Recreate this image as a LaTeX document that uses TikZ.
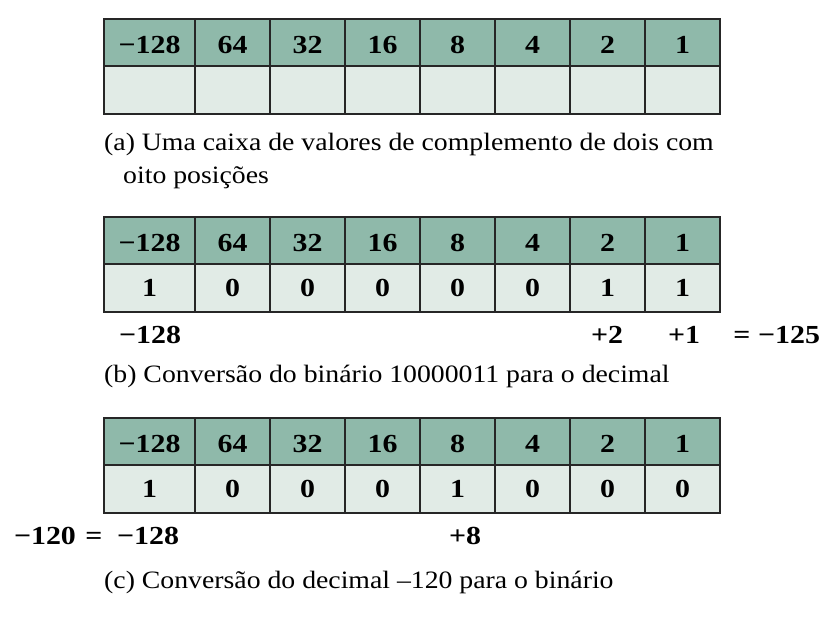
\documentclass[tikz,border=0pt]{standalone}
\usepackage{fontspec}
\setmainfont{Liberation Serif}[FakeStretch=1.11]
\newfontfamily\numfont{Liberation Serif}[FakeStretch=1.15]
\definecolor{hdr}{RGB}{143,185,170}
\definecolor{bdy}{RGB}{225,235,230}
\begin{document}
\begin{tikzpicture}[x=1pt,y=-1pt,
 cell/.style={draw=black!85, line width=1.4pt, inner sep=0pt, anchor=center,
   font=\fontsize{26}{30}\numfont\bfseries},
 hcell/.style={cell, fill=hdr, minimum height=47pt, text height=21pt, text depth=0pt},
 bcell/.style={cell, fill=bdy, minimum height=48pt},
 captxt/.style={font=\fontsize{25}{30}\selectfont, anchor=base west, inner sep=0pt},
 num/.style={font=\fontsize{26}{30}\numfont\bfseries, anchor=base, inner sep=0pt}]
\useasboundingbox (0,0) rectangle (832,622);
% header rows
\foreach \t/\yt in {a/42.5,b/240.5,c/441.5} {
  \foreach \i/\xl/\xr/\v in {1/104/195/−128,2/195/270/64,3/270/345/32,4/345/420/16,5/420/495/8,6/495/570/4,7/570/645/2,8/645/720/1}
    \node[hcell, minimum width={\xr-\xl}] (\t h\i) at ({(\xl+\xr)/2},\yt) {\v};
}
% body rows
\foreach \i/\xl/\xr in {1/104/195,2/195/270,3/270/345,4/345/420,5/420/495,6/495/570,7/570/645,8/645/720}
  \node[bcell, minimum width={\xr-\xl}] (ab\i) at ({(\xl+\xr)/2},90) {};
\foreach \i/\xl/\xr/\v in {1/104/195/1,2/195/270/0,3/270/345/0,4/345/420/0,5/420/495/0,6/495/570/0,7/570/645/1,8/645/720/1}
  \node[bcell, minimum width={\xr-\xl}] (bb\i) at ({(\xl+\xr)/2},288) {\v};
\foreach \i/\xl/\xr/\v in {1/104/195/1,2/195/270/0,3/270/345/0,4/345/420/0,5/420/495/1,6/495/570/0,7/570/645/0,8/645/720/0}
  \node[bcell, minimum width={\xr-\xl}] (cb\i) at ({(\xl+\xr)/2},489) {\v};
% captions
\node[captxt] (capa1) at (104,150) {(a) Uma caixa de valores de complemento de dois com};
\node[captxt] (capa2) at (123,183) {oito posições};
\node[captxt] (capb) at (104,382) {(b) Conversão do binário 10000011 para o decimal};
\node[captxt] (capc) at (104,588) {(c) Conversão do decimal –120 para o binário};
% sums (b)
\node[num] (bm128) at (150,343) {−128};
\node[num] (bp2) at (607,343) {+2};
\node[num] (bp1) at (684,343) {+1};
\node[num] (beq) at (742,343) {=};
\node[num] (bres) at (789,343) {−125};
% sums (c)
\node[num] (cm120) at (45,544) {−120};
\node[num] (ceq) at (94,544) {=};
\node[num] (cm128) at (148,544) {−128};
\node[num] (cp8) at (465,544) {+8};
\end{tikzpicture}
\end{document}
